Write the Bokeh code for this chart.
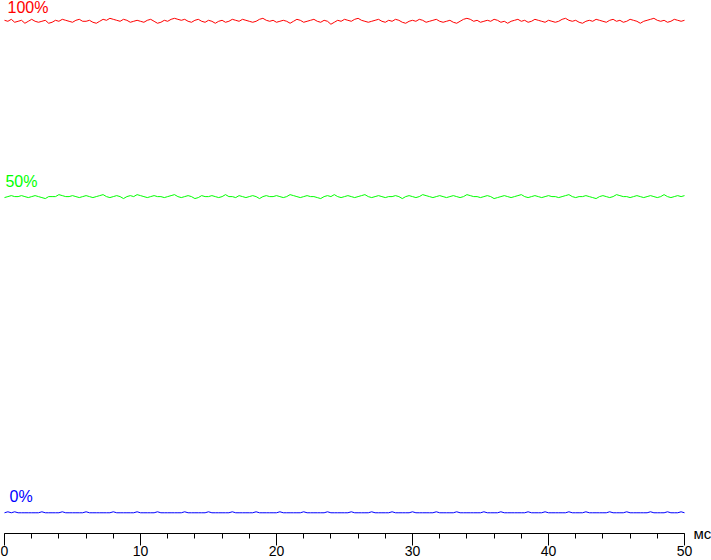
from bokeh.plotting import figure
from bokeh.models import Range1d, FixedTicker, Label, LinearAxis
from bokeh.embed import file_html
from bokeh.resources import INLINE

# time axis, ms (sampled every 0.25 ms)
time_ms = [i * 0.25 for i in range(201)]

# brightness levels (%)
red_100 = [
    100.0, 99.8, 100.2, 99.6, 99.8, 100.0, 99.4, 99.8, 100.2, 99.8,
    99.6, 99.8, 100.0, 99.4, 99.6, 100.0, 99.8, 100.2, 100.0, 99.8,
    99.6, 100.0, 100.2, 99.8, 99.8, 100.0, 99.6, 99.4, 99.8, 100.2,
    100.0, 100.4, 100.2, 100.0, 99.8, 100.2, 100.0, 99.6, 99.8, 100.0,
    99.8, 99.6, 100.0, 100.2, 99.8, 99.4, 99.6, 100.0, 99.8, 100.2,
    100.4, 100.2, 100.0, 100.2, 99.8, 99.6, 100.0, 100.2, 99.8, 99.6,
    100.0, 99.8, 99.4, 99.8, 100.0, 99.6, 99.8, 100.2, 100.0, 99.8,
    100.2, 100.0, 99.8, 99.6, 99.8, 100.2, 100.4, 100.0, 99.8, 100.0,
    99.6, 99.8, 100.0, 99.8, 99.4, 99.8, 100.2, 100.0, 99.6, 99.8,
    100.0, 100.2, 99.8, 99.6, 100.0, 99.8, 99.2, 99.6, 100.0, 99.8,
    100.2, 100.0, 99.8, 100.2, 100.4, 100.0, 99.8, 99.6, 99.8, 100.0,
    100.2, 99.8, 99.6, 100.0, 99.8, 100.2, 100.0, 99.6, 99.4, 99.8,
    100.0, 99.8, 100.2, 100.0, 99.6, 99.8, 100.0, 100.2, 99.8, 99.6,
    99.8, 100.0, 99.6, 99.4, 99.8, 100.2, 100.4, 100.2, 99.8, 100.0,
    99.6, 99.8, 100.0, 99.8, 100.2, 100.0, 99.6, 99.8, 99.4, 99.8,
    100.0, 100.2, 99.8, 100.0, 99.6, 99.8, 100.2, 100.0, 99.8, 99.6,
    100.0, 99.8, 99.6, 99.8, 100.2, 100.4, 100.0, 99.8, 100.0, 99.6,
    99.4, 99.8, 100.0, 99.8, 100.2, 100.0, 99.8, 99.6, 100.0, 100.2,
    99.8, 100.0, 99.6, 99.8, 100.2, 100.0, 99.8, 99.4, 99.8, 100.0,
    100.2, 100.4, 100.0, 99.8, 100.0, 99.6, 99.8, 100.2, 100.0, 99.8,
    100.0,
]

green_50 = [
    64.0, 64.2, 64.4, 64.2, 64.2, 64.4, 64.2, 64.0, 64.2, 64.4,
    64.2, 64.0, 63.8, 64.2, 64.2, 64.2, 64.6, 64.4, 64.2, 64.2,
    64.4, 64.2, 64.0, 64.2, 64.4, 64.2, 64.0, 64.2, 64.4, 64.6,
    64.2, 64.0, 64.2, 64.4, 64.2, 63.8, 64.2, 64.4, 64.2, 64.6,
    64.4, 64.2, 64.0, 64.2, 64.4, 64.2, 64.2, 64.0, 64.2, 64.4,
    64.6, 64.2, 64.0, 64.2, 64.4, 64.2, 63.8, 64.0, 64.4, 64.2,
    64.2, 64.4, 64.2, 64.0, 64.2, 64.6, 64.2, 64.2, 64.0, 64.4,
    64.2, 64.0, 64.2, 64.4, 64.2, 63.8, 64.2, 64.4, 64.2, 64.2,
    64.4, 64.2, 64.0, 64.2, 64.6, 64.4, 64.2, 64.0, 64.2, 64.4,
    64.2, 64.2, 64.0, 63.8, 64.2, 64.4, 64.2, 64.6, 64.2, 64.0,
    64.2, 64.4, 64.2, 64.0, 64.2, 64.4, 64.6, 64.2, 64.0, 64.2,
    64.4, 64.2, 64.0, 64.2, 64.2, 64.4, 64.2, 63.8, 64.2, 64.4,
    64.2, 64.0, 64.2, 64.6, 64.4, 64.2, 64.0, 64.2, 64.4, 64.2,
    64.0, 64.2, 64.4, 64.2, 64.0, 64.2, 64.6, 64.4, 64.2, 64.2,
    64.0, 64.2, 64.4, 64.2, 63.8, 64.0, 64.2, 64.4, 64.2, 64.0,
    64.2, 64.4, 64.6, 64.2, 64.0, 64.2, 64.4, 64.2, 64.0, 64.2,
    64.4, 64.2, 64.2, 64.0, 64.2, 64.4, 64.6, 64.2, 64.0, 64.2,
    64.2, 64.4, 64.2, 64.0, 63.8, 64.2, 64.4, 64.2, 64.0, 64.2,
    64.6, 64.4, 64.2, 64.2, 64.0, 64.2, 64.4, 64.2, 64.0, 64.2,
    64.4, 64.2, 64.0, 64.2, 64.6, 64.2, 64.0, 64.2, 64.4, 64.2,
    64.4,
]

blue_0 = [
    0.0, 0.2, 0.0, 0.2, 0.0, 0.0, 0.0, 0.0, 0.0, 0.0,
    0.0, 0.2, 0.0, 0.0, 0.0, 0.0, 0.0, 0.2, 0.0, 0.0,
    0.0, 0.0, 0.0, 0.0, 0.2, 0.0, 0.0, 0.0, 0.0, 0.0,
    0.0, 0.0, 0.2, 0.0, 0.0, 0.0, 0.0, 0.0, 0.0, 0.2,
    0.0, 0.0, 0.0, 0.0, 0.0, 0.2, 0.0, 0.0, 0.0, 0.0,
    0.0, 0.0, 0.0, 0.2, 0.0, 0.0, 0.0, 0.0, 0.0, 0.0,
    0.2, 0.0, 0.0, 0.0, 0.0, 0.0, 0.0, 0.2, 0.0, 0.0,
    0.0, 0.0, 0.0, 0.0, 0.2, 0.0, 0.0, 0.0, 0.0, 0.0,
    0.0, 0.2, 0.0, 0.0, 0.0, 0.0, 0.0, 0.0, 0.2, 0.0,
    0.0, 0.0, 0.0, 0.0, 0.0, 0.2, 0.0, 0.0, 0.0, 0.0,
    0.0, 0.0, 0.2, 0.0, 0.0, 0.0, 0.0, 0.0, 0.2, 0.0,
    0.0, 0.0, 0.0, 0.0, 0.2, 0.0, 0.0, 0.0, 0.0, 0.0,
    0.2, 0.0, 0.0, 0.0, 0.0, 0.0, 0.0, 0.2, 0.0, 0.0,
    0.0, 0.0, 0.0, 0.2, 0.0, 0.0, 0.0, 0.0, 0.0, 0.0,
    0.0, 0.2, 0.0, 0.0, 0.0, 0.0, 0.2, 0.0, 0.0, 0.0,
    0.0, 0.0, 0.0, 0.0, 0.2, 0.0, 0.0, 0.0, 0.0, 0.2,
    0.0, 0.0, 0.0, 0.0, 0.0, 0.0, 0.2, 0.0, 0.0, 0.0,
    0.0, 0.2, 0.0, 0.0, 0.0, 0.0, 0.0, 0.0, 0.2, 0.0,
    0.0, 0.0, 0.0, 0.2, 0.0, 0.0, 0.0, 0.0, 0.0, 0.0,
    0.2, 0.0, 0.0, 0.0, 0.0, 0.2, 0.0, 0.0, 0.0, 0.2,
    0.0,
]

series_labels = ["100%", "50%", "0%"]
series_levels = [99.9, 64.2, 0.05]   # nominal level of each trace
series_colors = ["#ff0000", "#00ff00", "#0000ff"]
x_ticks = [0, 10, 20, 30, 40, 50]
x_minor_ticks = list(range(0, 51, 2))
unit_label = "мс"

AXIS_Y = -4.2  # level at which the time axis is drawn

p = figure(
    frame_width=711, frame_height=560,
    x_range=Range1d(-0.294, 51.985), y_range=Range1d(-9.69, 104.02),
    output_backend="svg", toolbar_location=None,
    x_axis_location=None, y_axis_location=None,
    min_border=0, min_border_left=0, min_border_right=0,
    min_border_top=0, min_border_bottom=0,
)
p.outline_line_color = None
p.grid.grid_line_color = None
p.background_fill_color = "white"
p.border_fill_color = "white"

series = [red_100, green_50, blue_0]
label_dx = [0.22, 0.07, 0.37]
label_dy = [2.6, 2.97, 3.16]
for vals, lev, lab, col, dx, dy in zip(series, series_levels, series_labels,
                                       series_colors, label_dx, label_dy):
    p.line(time_ms, vals, line_color=col, line_width=1)
    p.add_layout(Label(x=dx, y=lev + dy, text=lab, text_color=col,
                       text_font="Liberation Sans", text_font_size="16px",
                       text_baseline="alphabetic", text_align="left"))

axis = LinearAxis(
    ticker=FixedTicker(ticks=x_ticks, minor_ticks=x_minor_ticks),
    bounds=(0, 50), fixed_location=AXIS_Y,
    axis_line_color="black", axis_line_width=1,
    major_tick_line_color="black", major_tick_out=12, major_tick_in=0,
    minor_tick_line_color="black", minor_tick_out=5, minor_tick_in=0,
    major_label_text_font="Liberation Sans", major_label_text_font_size="14px",
    major_label_text_color="black", major_label_standoff=1,
)
p.add_layout(axis, "below")

p.add_layout(Label(x=50.66, y=AXIS_Y, text=unit_label, text_color="black",
                   text_font="Liberation Sans", text_font_size="15px",
                   text_baseline="middle", text_align="left"))

open("out.html", "w").write(file_html(p, INLINE))
